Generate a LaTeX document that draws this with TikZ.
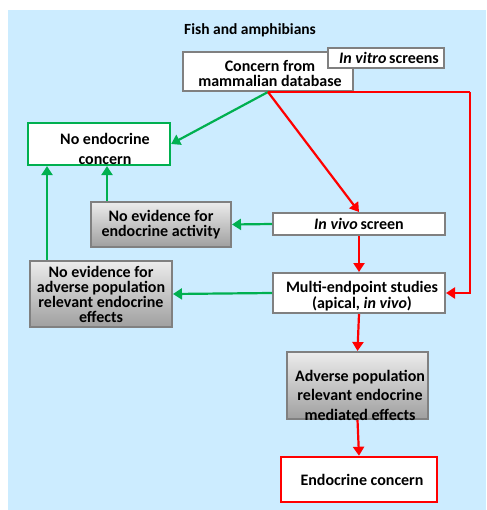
\documentclass[tikz,border=0pt]{standalone}
\usepackage{fontspec}
\setmainfont{Carlito}
\usetikzlibrary{arrows.meta}
\definecolor{bgblue}{RGB}{204,236,255}
\definecolor{ggreen}{RGB}{0,176,80}
\definecolor{rred}{RGB}{255,0,0}
\definecolor{bgray}{RGB}{128,128,128}
\tikzset{
  x=1pt, y=-1pt,
  box/.style={draw=bgray, line width=2pt, fill=white, minimum width=#1, inner sep=0pt, align=center, font=\bfseries\fontsize{16}{15}\selectfont},
  graybox/.style={box=#1, top color=gray!15, bottom color=gray!75},
  greenbox/.style={box=#1, draw=ggreen, line width=2.2pt},
  redbox/.style={box=#1, draw=rred, line width=2.5pt},
  garrow/.style={draw=ggreen, line width=2.2pt, -{Triangle[length=9pt,width=11pt]}},
  rarrow/.style={draw=rred, line width=2.2pt, -{Triangle[length=9pt,width=11pt]}},
  rline/.style={draw=rred, line width=2.2pt},
  txt/.style={inner sep=0pt, align=center, font=\bfseries\fontsize{16}{15}\selectfont}
}
\begin{document}
\begin{tikzpicture}
\useasboundingbox (0,0) rectangle (486,510);
\fill[white] (0,0) rectangle (486,510);
\fill[bgblue] (8,10) rectangle (486,510);
\node[txt, font=\bfseries\fontsize{15.5}{15}\selectfont] (title) at (250,30) {Fish and amphibians};
% boxes
\node[box=170pt, minimum height=39pt] (concern) at (268,71.5) {};
\node[txt, font=\bfseries\fontsize{16}{15.5}\selectfont] (concerntext) at (270,73.5) {Concern from\\mammalian database};
\node[box=116pt, minimum height=20pt] (vitro) at (386,58) {\hspace*{6pt}\textit{In vitro}\,screens};
\node[greenbox=142pt, minimum height=42pt] (noconcern) at (99,144) {};
\node[txt, font=\bfseries\fontsize{16}{20}\selectfont] (noconcerntext) at (105,149) {No endocrine\\concern};
\node[graybox=140pt, minimum height=45pt] (noevact) at (161,224.5) {No evidence for\\endocrine activity};
\node[box=172pt, minimum height=22pt] (invivo) at (359,224) {\textit{In vivo}\,screen};
\node[graybox=142pt, minimum height=66pt] (noevadv) at (101,294) {No evidence for\\adverse population\\relevant endocrine\\effects};
\node[box=172pt, minimum height=40pt] (multi) at (359,293) {};
\node[txt, font=\bfseries\fontsize{16}{16}\selectfont] (multitext) at (362,296) {Multi-endpoint studies\\(apical, \textit{in vivo})};
\node[graybox=141pt, minimum height=67pt] (adverse) at (357.5,385.5) {};
\node[txt, font=\bfseries\fontsize{16}{19.5}\selectfont] (adversetext) at (360,395) {Adverse population\\relevant endocrine\\mediated effects};
\node[redbox=156pt, minimum height=45pt] (endo) at (359,479.5) {\hspace*{6pt}Endocrine concern};
% helper coordinates
\coordinate (cright) at (470,92);
\coordinate (g1) at (107,0);
\coordinate (g2) at (47,0);
% connectors
\draw[garrow] (concern.south) -- (noconcern.east);
\draw[rarrow] (concern.south) -- (invivo.north);
\draw[rline] (concern.south) -- (cright);
\draw[rarrow] (cright) |- (multi.east);
\draw[garrow] (invivo.west) -- (noevact.east);
\draw[garrow] (noevact.north -| g1) -- (noconcern.south -| g1);
\draw[garrow] (noevadv.north -| g2) -- (noconcern.south -| g2);
\draw[rarrow] (invivo.south) -- (multi.north);
\draw[garrow] (multi.west) -- (noevadv.east);
\draw[rarrow] (multi.south) -- (adverse.north);
\draw[rarrow] (adverse.south) -- (endo.north);
\end{tikzpicture}
\end{document}
